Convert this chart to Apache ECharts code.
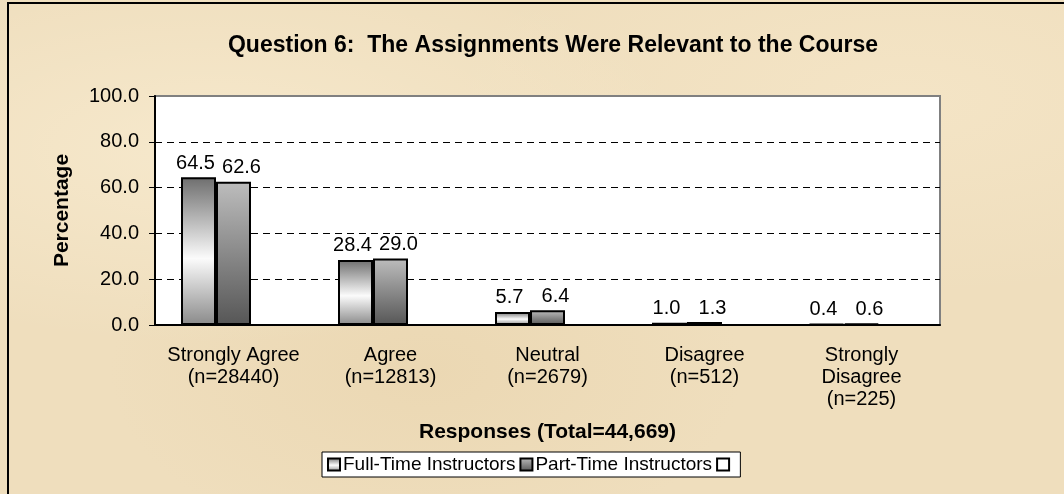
<!DOCTYPE html>
<html>
<head>
<meta charset="utf-8">
<title>Question 6</title>
<script src="https://cdn.jsdelivr.net/npm/echarts@6/dist/echarts.min.js"></script>
<style>
  html, body { margin: 0; padding: 0; overflow: hidden; }
  body {
    width: 1064px; height: 494px; position: relative;
    background-color: #efdebd;
    background-image:
      radial-gradient(ellipse at 20% 30%, rgba(255,245,222,0.45), rgba(255,245,222,0) 40%),
      radial-gradient(ellipse at 40% 75%, rgba(228,204,160,0.35), rgba(228,204,160,0) 35%),
      radial-gradient(ellipse at 85% 20%, rgba(250,236,208,0.45), rgba(250,236,208,0) 35%);
  }
  #frame { position: absolute; left: 7px; top: 2px; width: 1200px; height: 600px;
           border-left: 2px solid #000; border-top: 2px solid #000; }
  #main { position: absolute; left: 0; top: 0; width: 1064px; height: 494px; }
</style>
</head>
<body>
<div id="frame"></div>
<div id="main"></div>
<script type="text/javascript">
  // data
  var categories = ['Strongly Agree\n(n=28440)', 'Agree\n(n=12813)', 'Neutral\n(n=2679)', 'Disagree\n(n=512)', 'Strongly\nDisagree\n(n=225)'];
  var fullTime = [64.5, 28.4, 5.7, 1.0, 0.4];
  var partTime = [62.6, 29.0, 6.4, 1.3, 0.6];
  var extra = [];
  var seriesNames = ['Full-Time Instructors', 'Part-Time Instructors', ' '];

  var myChart = echarts.init(document.getElementById('main'));

  var fullFill = new echarts.graphic.LinearGradient(0, 0, 0, 1, [
    {offset: 0, color: '#6e6e6e'},
    {offset: 0.55, color: '#fbfbfb'},
    {offset: 1, color: '#8a8a8a'}
  ]);
  var partFill = new echarts.graphic.LinearGradient(0, 0, 0, 1, [
    {offset: 0, color: '#bdbdbd'},
    {offset: 1, color: '#565656'}
  ]);

  function makeLabel(dx) {
    return {
      show: true,
      position: 'top',
      distance: 4,
      offset: [dx, 0],
      color: '#000',
      fontSize: 20,
      formatter: function (p) { return p.value.toFixed(1); }
    };
  }

  var option = {
    animation: false,
    textStyle: { fontFamily: 'Arial, Liberation Sans' },
    title: {
      text: 'Question 6:  The Assignments Were Relevant to the Course',
      left: 548,
      textAlign: 'center',
      top: 29,
      textStyle: { fontSize: 23, fontWeight: 'bold', color: '#000' }
    },
    legend: {
      data: seriesNames,
      left: 322,
      top: 452,
      backgroundColor: '#fff',
      borderColor: '#000',
      borderWidth: 1,
      borderRadius: 0,
      padding: [3, 3, 3, 5],
      itemWidth: 12,
      itemHeight: 12,
      itemGap: 4,
      icon: 'rect',
      textStyle: { fontSize: 19, color: '#000', padding: [0, 0, 0, -2] }
    },
    grid: {
      left: 155,
      top: 96,
      width: 785,
      height: 229,
      show: true,
      backgroundColor: '#fff',
      borderColor: '#808080',
      borderWidth: 2
    },
    xAxis: {
      type: 'category',
      data: categories,
      name: 'Responses (Total=44,669)',
      nameLocation: 'middle',
      nameGap: 97,
      nameTextStyle: { fontSize: 21, fontWeight: 'bold', color: '#000' },
      axisLine: { lineStyle: { color: '#000', width: 2 } },
      axisTick: { length: 6, lineStyle: { color: '#000', width: 1 } },
      axisLabel: { fontSize: 20, color: '#000', lineHeight: 22, margin: 19, interval: 0 }
    },
    yAxis: {
      type: 'value',
      min: 0,
      max: 100,
      interval: 20,
      name: 'Percentage',
      nameLocation: 'middle',
      nameGap: 82,
      nameTextStyle: { fontSize: 21, fontWeight: 'bold', color: '#000' },
      axisLine: { show: true, lineStyle: { color: '#000', width: 2 } },
      axisTick: { show: true, length: 6, lineStyle: { color: '#000', width: 1 } },
      axisLabel: {
        fontSize: 20, color: '#000', margin: 16,
        formatter: function (v) { return v.toFixed(1); }
      },
      splitLine: {
        show: true,
        showMinLine: false,
        showMaxLine: false,
        lineStyle: { color: '#000', width: 1, type: [7, 5] }
      }
    },
    series: [
      {
        name: seriesNames[0],
        type: 'bar',
        data: fullTime,
        barWidth: 35,
        barGap: '0%',
        barCategoryGap: '33%',
        itemStyle: { color: fullFill, borderColor: '#000', borderWidth: 2 },
        label: makeLabel(-3)
      },
      {
        name: seriesNames[1],
        type: 'bar',
        data: partTime,
        barWidth: 35,
        barGap: '0%',
        itemStyle: { color: partFill, borderColor: '#000', borderWidth: 2 },
        label: makeLabel(8)
      },
      {
        name: seriesNames[2],
        type: 'bar',
        data: extra,
        barWidth: 35,
        barGap: '0%',
        itemStyle: { color: '#fff', borderColor: '#000', borderWidth: 2 }
      }
    ]
  };

  myChart.setOption(option);
</script>
</body>
</html>
